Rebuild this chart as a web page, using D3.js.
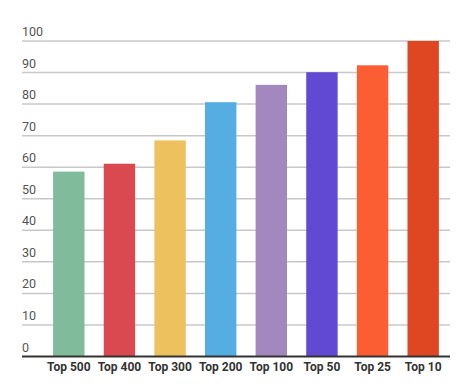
<!DOCTYPE html>
<html><head><meta charset="utf-8">
<script src="https://cdn.jsdelivr.net/npm/d3@7"></script>
<style>body{margin:0;background:#fff}svg{display:block}</style>
</head><body>
<svg id="c" width="464" height="387"></svg>
<script>
const categories = ["Top 500","Top 400","Top 300","Top 200","Top 100","Top 50","Top 25","Top 10"];
const values = [58.6, 61.1, 68.5, 80.6, 86.1, 90.1, 92.3, 100];
const colors = ["#80bb9c","#d9494f","#edc25e","#55ade2","#a388bf","#6249d3","#fc5e33","#df4622"];
const yTicks = [0,10,20,30,40,50,60,70,80,90,100];

const svg = d3.select("#c");
const y = d3.scaleLinear().domain([0,100]).range([356.5, 41]);
const x = d3.scaleBand().domain(categories).range([43.5, 448.5]).paddingInner(0.38).paddingOuter(0.19);

svg.append("g").selectAll("line").data(yTicks.filter(d=>d>0)).join("line")
  .attr("x1",22).attr("x2",450).attr("y1",d=>y(d)).attr("y2",d=>y(d))
  .attr("stroke","#c8c8c8").attr("stroke-width",1.5);

svg.append("g").selectAll("text").data(yTicks).join("text")
  .attr("x",22).attr("y",d=>y(d)-5)
  .attr("font-family","Roboto, sans-serif").attr("font-size",12.5).attr("fill","#555")
  .text(d=>d);

svg.append("g").selectAll("rect").data(values).join("rect")
  .attr("x",(d,i)=>x(categories[i])).attr("width",x.bandwidth())
  .attr("y",d=>y(d)).attr("height",d=>y(0)-y(d))
  .attr("fill",(d,i)=>colors[i]);

svg.append("line").attr("x1",22).attr("x2",450).attr("y1",y(0)).attr("y2",y(0))
  .attr("stroke","#333").attr("stroke-width",2);

svg.append("g").selectAll("text").data(categories).join("text")
  .attr("x",d=>x(d)+x.bandwidth()/2).attr("y",371)
  .attr("text-anchor","middle")
  .attr("font-family","Roboto, sans-serif").attr("font-size",12).attr("font-weight","bold").attr("fill","#333")
  .text(d=>d);
</script>
</body></html>
